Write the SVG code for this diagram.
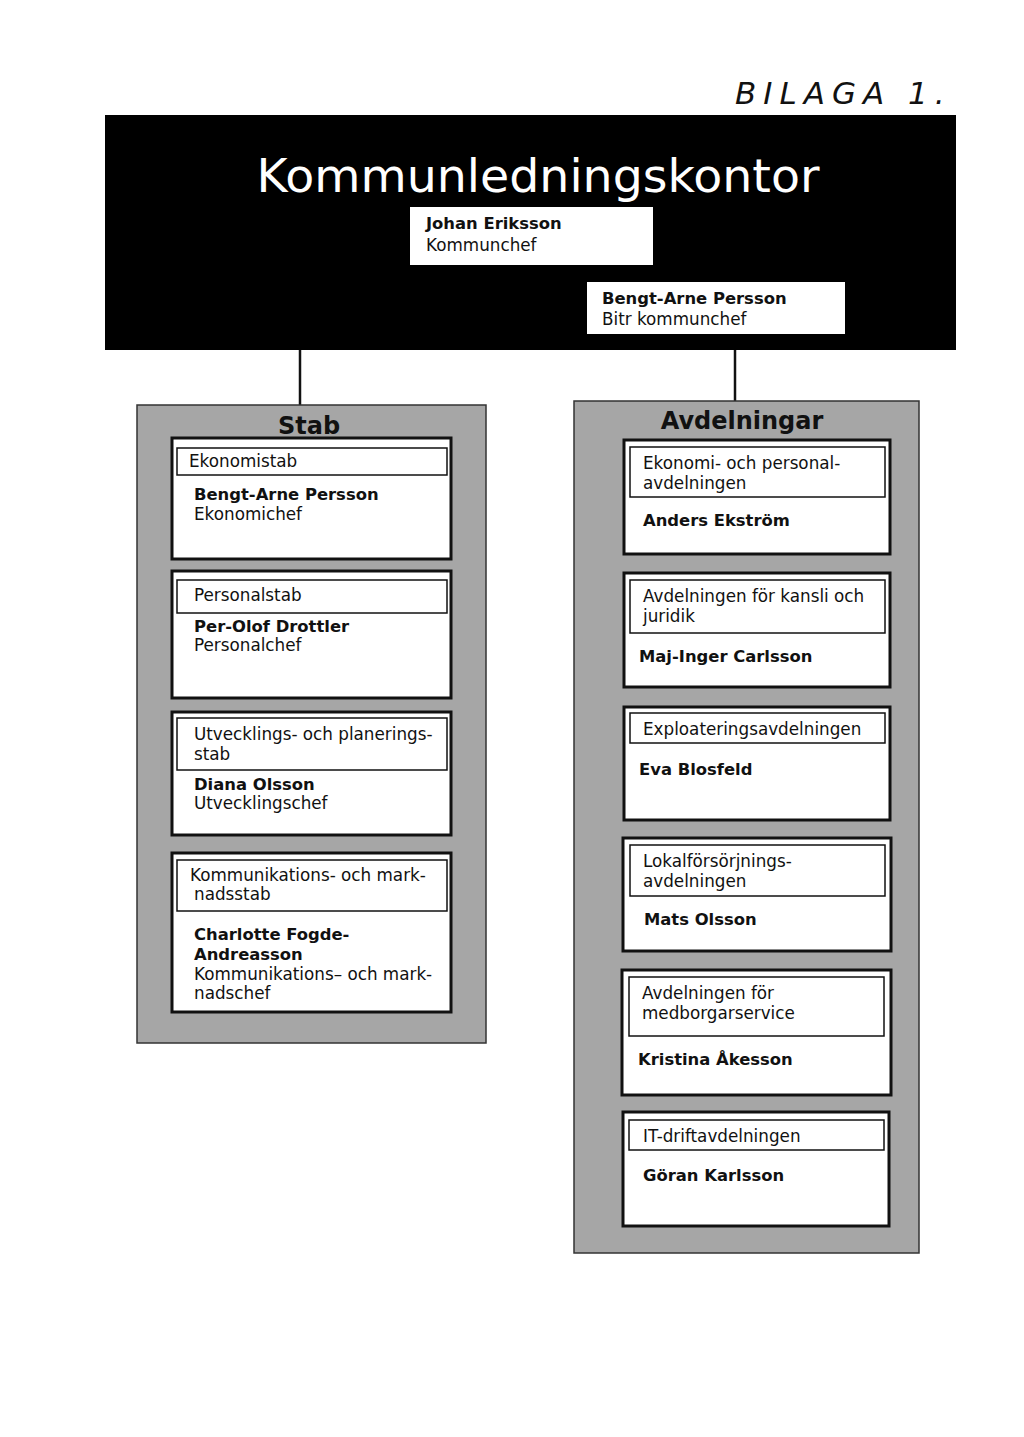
<svg xmlns="http://www.w3.org/2000/svg" width="1024" height="1437" viewBox="0 0 1024 1437">
<style>
text{font-family:"DejaVu Sans",Verdana,sans-serif;font-size:16.8px;fill:#111}
.b{font-weight:bold;font-size:16.4px}
.panel{fill:#a6a6a6;stroke:#333;stroke-width:1.5}
.box{fill:#fff;stroke:#111;stroke-width:3}
.hdr{fill:#fff;stroke:#111;stroke-width:1.5}
.wbox{fill:#fff;stroke:none}
.ph{font-weight:bold;font-size:24px;text-anchor:middle;fill:#111}
.conn{stroke:#111;stroke-width:2.5;fill:none}
</style>
<rect width="1024" height="1437" fill="#fff"/>
<text x="735" y="104" style="font-family:'DejaVu Sans',sans-serif;font-style:italic;font-size:31px;letter-spacing:7px;fill:#111">BILAGA 1.</text>
<g id="connectors">
<line class="conn" x1="300" y1="350" x2="300" y2="406"/>
<line class="conn" x1="735" y1="350" x2="735" y2="402"/>
</g>
<g id="kommunledningskontor">
<rect x="105" y="115" width="851" height="235" fill="#000"/>
<text x="538" y="192" text-anchor="middle" style="font-size:46px;fill:#fff" textLength="563" lengthAdjust="spacingAndGlyphs">Kommunledningskontor</text>
</g>
<g id="johan">
<rect class="wbox" x="410" y="207" width="243" height="58"/>
<text class="b" x="426" y="229">Johan Eriksson</text>
<text x="426" y="251">Kommunchef</text>
</g>
<g id="bengt-bitr">
<rect class="wbox" x="587" y="282" width="258" height="52"/>
<text class="b" x="602" y="304">Bengt-Arne Persson</text>
<text x="602" y="325">Bitr kommunchef</text>
</g>
<g id="stab">
<rect class="panel" x="137" y="405" width="349" height="638"/>
<text class="ph" x="309" y="434">Stab</text>
</g>
<g id="ekonomistab">
<rect class="box" x="172" y="438" width="279" height="121"/>
<rect class="hdr" x="177" y="448" width="270" height="27"/>
<text x="189" y="467">Ekonomistab</text>
<text class="b" x="194" y="500">Bengt-Arne Persson</text>
<text x="194" y="520">Ekonomichef</text>
</g>
<g id="personalstab">
<rect class="box" x="172" y="571" width="279" height="127"/>
<rect class="hdr" x="177" y="580" width="270" height="33"/>
<text x="194" y="601">Personalstab</text>
<text class="b" x="194" y="632">Per-Olof Drottler</text>
<text x="194" y="651">Personalchef</text>
</g>
<g id="utvecklingsstab">
<rect class="box" x="172" y="712" width="279" height="123"/>
<rect class="hdr" x="177" y="718" width="270" height="52"/>
<text x="194" y="740">Utvecklings- och planerings-</text>
<text x="194" y="760">stab</text>
<text class="b" x="194" y="790">Diana Olsson</text>
<text x="194" y="809">Utvecklingschef</text>
</g>
<g id="kommunikationsstab">
<rect class="box" x="172" y="853" width="279" height="159"/>
<rect class="hdr" x="177" y="860" width="270" height="51"/>
<text x="190" y="881">Kommunikations- och mark-</text>
<text x="194" y="900">nadsstab</text>
<text class="b" x="194" y="940">Charlotte Fogde-</text>
<text class="b" x="194" y="960">Andreasson</text>
<text x="194" y="980">Kommunikations– och mark-</text>
<text x="194" y="999">nadschef</text>
</g>
<g id="avdelningar">
<rect class="panel" x="574" y="401" width="345" height="852"/>
<text class="ph" x="742" y="429">Avdelningar</text>
</g>
<g id="ekonomiavd">
<rect class="box" x="624" y="440" width="266" height="114"/>
<rect class="hdr" x="630" y="447" width="255" height="50"/>
<text x="643" y="469">Ekonomi- och personal-</text>
<text x="643" y="489">avdelningen</text>
<text class="b" x="643" y="526">Anders Ekström</text>
</g>
<g id="kansliavd">
<rect class="box" x="624" y="573" width="266" height="114"/>
<rect class="hdr" x="630" y="580" width="255" height="53"/>
<text x="643" y="602">Avdelningen för kansli och</text>
<text x="643" y="622">juridik</text>
<text class="b" x="639" y="662">Maj-Inger Carlsson</text>
</g>
<g id="exploateringsavd">
<rect class="box" x="624" y="707" width="266" height="113"/>
<rect class="hdr" x="630" y="713" width="255" height="30"/>
<text x="643" y="735">Exploateringsavdelningen</text>
<text class="b" x="639" y="775">Eva Blosfeld</text>
</g>
<g id="lokalavd">
<rect class="box" x="623" y="838" width="268" height="113"/>
<rect class="hdr" x="630" y="845" width="255" height="51"/>
<text x="643" y="867">Lokalförsörjnings-</text>
<text x="643" y="887">avdelningen</text>
<text class="b" x="644" y="925">Mats Olsson</text>
</g>
<g id="medborgaravd">
<rect class="box" x="622" y="970" width="269" height="125"/>
<rect class="hdr" x="629" y="977" width="255" height="59"/>
<text x="642" y="999">Avdelningen för</text>
<text x="642" y="1019">medborgarservice</text>
<text class="b" x="638" y="1065">Kristina Åkesson</text>
</g>
<g id="itavd">
<rect class="box" x="623" y="1112" width="266" height="114"/>
<rect class="hdr" x="629" y="1120" width="255" height="30"/>
<text x="643" y="1142">IT-driftavdelningen</text>
<text class="b" x="643" y="1181">Göran Karlsson</text>
</g>
</svg>
